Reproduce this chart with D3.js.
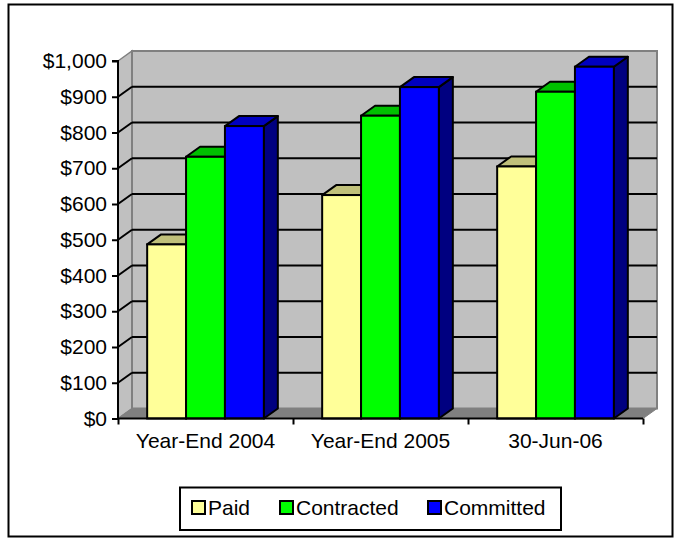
<!DOCTYPE html>
<html><head><meta charset="utf-8">
<script src="https://cdn.jsdelivr.net/npm/d3@7"></script>
<style>
html,body{margin:0;padding:0;background:#fff;}
svg{display:block;font-family:Arial,"Liberation Sans",sans-serif;}
</style></head>
<body>
<svg id="chart" width="681" height="541"></svg>
<script>
const categories = ["Year-End 2004", "Year-End 2005", "30-Jun-06"];
const seriesNames = ["Paid", "Contracted", "Committed"];
const paid = [487, 625, 705];
const contracted = [732, 847, 914];
const committed = [818, 927, 984];
const tickValues = [0, 100, 200, 300, 400, 500, 600, 700, 800, 900, 1000];

const seriesValues = [paid, contracted, committed];
const frontColors = ["#FFFF99", "#00FF00", "#0000FF"];
const topColors = ["#C0C07A", "#00C000", "#0000C0"];
const sideColors = ["#80804C", "#008000", "#000080"];

const svg = d3.select("#chart");
const left = 118, right = 643, y0px = 418.5, y1px = 61;
const dx = 14, dy = -10;
const FS = 21;

// outer border
svg.append("rect").attr("x", 8.5).attr("y", 4.5).attr("width", 664).attr("height", 532)
  .attr("fill", "#fff").attr("stroke", "#000").attr("stroke-width", 2);

const y = d3.scaleLinear().domain([0, 1000]).range([y0px, y1px]);
const x = d3.scaleBand().domain(categories).range([left, right]).paddingInner(0).paddingOuter(0);
const bw = x.bandwidth();
const barW = bw / 4.5;
const xs = d3.scaleBand().domain(seriesNames).range([barW * 0.75, bw - barW * 0.75]).padding(0);

const g = svg.append("g");
const pts = a => a.map(p => p.join(",")).join(" ");

// side wall
g.append("polygon").attr("points", pts([[left, y(1000)], [left + dx, y(1000) + dy], [left + dx, y(0) + dy], [left, y(0)]]))
  .attr("fill", "#C0C0C0").attr("stroke", "#808080").attr("stroke-width", 1.5);
// back wall
g.append("polygon").attr("points", pts([[left + dx, y(1000) + dy], [right + dx, y(1000) + dy], [right + dx, y(0) + dy], [left + dx, y(0) + dy]]))
  .attr("fill", "#C0C0C0").attr("stroke", "#808080").attr("stroke-width", 2);
// floor
g.append("polygon").attr("points", pts([[left, y(0)], [left + dx, y(0) + dy], [right + dx, y(0) + dy], [right, y(0)]]))
  .attr("fill", "#808080").attr("stroke", "#808080").attr("stroke-width", 1);

// gridlines
const gridVals = tickValues.filter(v => v > 0 && v < 1000);
g.selectAll("line.grid").data(gridVals).enter().append("line")
  .attr("x1", left + dx).attr("x2", right + dx)
  .attr("y1", d => y(d) + dy).attr("y2", d => y(d) + dy)
  .attr("stroke", "#000").attr("stroke-width", 2);
g.selectAll("line.diag").data(gridVals).enter().append("line")
  .attr("x1", left).attr("x2", left + dx)
  .attr("y1", d => y(d)).attr("y2", d => y(d) + dy)
  .attr("stroke", "#000").attr("stroke-width", 2);

// bars
categories.forEach((c, ci) => {
  seriesNames.forEach((s, si) => {
    const v = seriesValues[si][ci];
    const xa = x(c) + xs(s), xb = xa + barW;
    const yt = y(v), yb = y(0);
    const bg = g.append("g");
    bg.append("polygon").attr("points", pts([[xb, yt], [xb + dx, yt + dy], [xb + dx, yb + dy], [xb, yb]]))
      .attr("fill", sideColors[si]).attr("stroke", "#000").attr("stroke-width", 2).attr("stroke-linejoin", "round");
    bg.append("polygon").attr("points", pts([[xa, yt], [xa + dx, yt + dy], [xb + dx, yt + dy], [xb, yt]]))
      .attr("fill", topColors[si]).attr("stroke", "#000").attr("stroke-width", 2).attr("stroke-linejoin", "round");
    bg.append("rect").attr("x", xa).attr("y", yt).attr("width", barW).attr("height", yb - yt)
      .attr("fill", frontColors[si]).attr("stroke", "#000").attr("stroke-width", 2);
  });
});

// y axis
const yAxis = d3.axisLeft(y).tickValues(tickValues).tickSize(6).tickPadding(5)
  .tickFormat(d => "$" + d3.format(",")(d));
const ya = svg.append("g").attr("transform", `translate(${left},0)`).call(yAxis);
ya.select(".domain").attr("stroke", "#000").attr("stroke-width", 2).attr("d", `M-6,${y(1000)}H0V${y(0)}`);
ya.selectAll(".tick line").attr("stroke", "#000").attr("stroke-width", 2);
ya.selectAll(".tick text").attr("font-size", FS).attr("fill", "#000")
  .attr("font-family", "Arial, 'Liberation Sans', sans-serif");

// x axis
const xbScale = d3.scaleLinear().domain([0, categories.length]).range([left, right]);
const xAxis = d3.axisBottom(xbScale).tickValues(d3.range(categories.length + 1)).tickSize(6).tickFormat("");
const xa = svg.append("g").attr("transform", `translate(0,${y(0)})`).call(xAxis);
xa.select(".domain").attr("stroke", "#000").attr("stroke-width", 2).attr("d", `M${left},0H${right}`);
xa.selectAll(".tick line").attr("stroke", "#000").attr("stroke-width", 2);
svg.selectAll("text.cat").data(categories).enter().append("text")
  .attr("x", d => x(d) + bw / 2).attr("y", 448).attr("text-anchor", "middle")
  .attr("font-size", FS).attr("fill", "#000").text(d => d);

// legend
svg.append("rect").attr("x", 180).attr("y", 487.5).attr("width", 381).attr("height", 42.5)
  .attr("fill", "#fff").attr("stroke", "#000").attr("stroke-width", 2);
const legX = [192, 280, 428];
seriesNames.forEach((s, i) => {
  svg.append("rect").attr("x", legX[i]).attr("y", 501).attr("width", 13).attr("height", 13)
    .attr("fill", frontColors[i]).attr("stroke", "#000").attr("stroke-width", 2);
  svg.append("text").attr("x", legX[i] + 16).attr("y", 514.5).attr("font-size", FS).attr("fill", "#000").text(s);
});
</script>
</body></html>
